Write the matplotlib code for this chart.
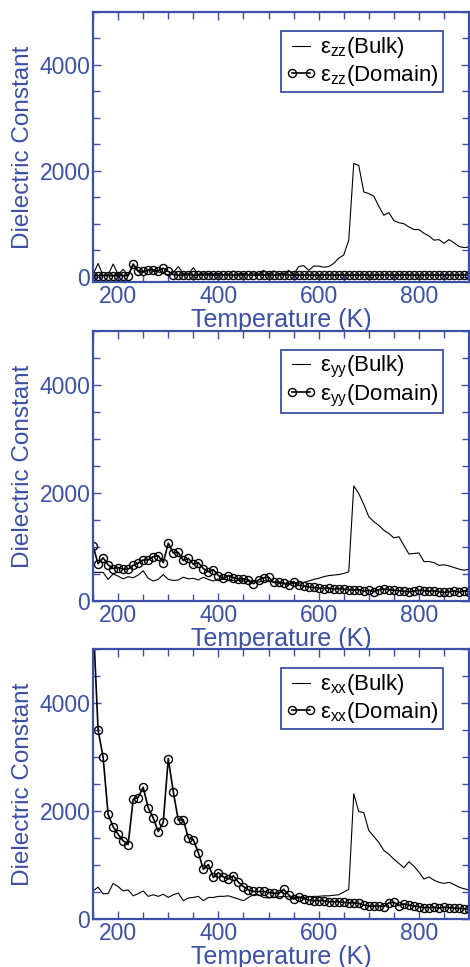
import matplotlib
matplotlib.use('Agg')
import matplotlib.pyplot as plt
from matplotlib.ticker import MultipleLocator
import numpy as np

# temperature grid (K)
temps = np.arange(150, 910, 10)

zz_bulk = [40, 250, 20, 30, 240, 40, 140, 20, 220, 90,
           80, 120, 100, 90, 60, 40, 80, 190, 60, 50,
           170, 40, 70, 60, 50, 60, 40, 50, 110, 50,
           60, 40, 70, 50, 120, 50, 110, 60, 50, 120,
           40, 190, 210, 120, 200, 200, 180, 190, 250, 350,
           410, 690, 2140, 2100, 1600, 1570, 1520, 1330, 1160, 1210,
           1060, 1020, 1000, 940, 890, 890, 820, 770, 690, 700,
           630, 700, 640, 570, 550, 560]
zz_domain = [20, 20, 20, 20, 20, 20, 20, 20, 240, 110,
             100, 130, 130, 110, 160, 100, 40, 30, 30, 35,
             30, 30, 35, 30, 30, 30, 35, 30, 30, 30,
             35, 30, 30, 30, 35, 30, 30, 30, 35, 30,
             30, 30, 35, 30, 30, 30, 35, 30, 30, 30,
             35, 30, 30, 30, 35, 30, 30, 30, 35, 30,
             30, 30, 35, 30, 30, 30, 35, 30, 30, 30,
             35, 30, 30, 30, 35, 30]

yy_bulk = [530, 530, 530, 400, 500, 460, 410, 450, 430, 480,
           560, 420, 370, 400, 490, 400, 380, 390, 440, 410,
           420, 390, 440, 400, 370, 410, 400, 390, 380, 380,
           370, 360, 360, 350, 370, 380, 340, 330, 330, 320,
           330, 330, 340, 370, 400, 420, 450, 470, 480, 490,
           510, 540, 2130, 1990, 1790, 1560, 1470, 1400, 1310, 1250,
           1170, 1190, 1030, 870, 880, 890, 730, 730, 710, 660,
           670, 650, 620, 590, 570, 590]
yy_domain = [1020, 690, 800, 670, 600, 620, 590, 590, 660, 700,
             760, 760, 820, 840, 710, 1070, 890, 900, 750, 790,
             680, 710, 600, 540, 580, 470, 420, 470, 430, 410,
             410, 390, 320, 390, 430, 440, 350, 350, 330, 290,
             360, 290, 280, 260, 250, 240, 230, 240, 220, 230,
             220, 210, 200, 210, 180, 200, 170, 210, 220, 210,
             200, 190, 180, 170, 180, 200, 190, 180, 190, 170,
             160, 170, 190, 160, 190, 170]

xx_bulk = [520, 590, 470, 470, 660, 600, 520, 540, 430, 470,
           520, 420, 450, 420, 460, 400, 450, 480, 340, 390,
           400, 420, 340, 400, 400, 420, 420, 430, 400, 370,
           340, 400, 450, 450, 400, 390, 400, 410, 420, 410,
           400, 410, 400, 410, 420, 420, 430, 430, 440, 450,
           500, 550, 2320, 1990, 1970, 1640, 1530, 1420, 1270, 1200,
           1110, 1030, 950, 1060, 980, 870, 740, 780, 720, 680,
           660, 680, 640, 590, 560, 540]
xx_domain = [5600, 3500, 3000, 1940, 1710, 1570, 1450, 1380, 2220, 2250,
             2440, 2060, 1870, 1620, 1790, 2970, 2360, 1830, 1840, 1500,
             1470, 1230, 920, 1010, 770, 860, 780, 740, 800, 680,
             600, 540, 510, 510, 510, 490, 480, 470, 550, 450,
             370, 400, 380, 350, 340, 340, 340, 320, 320, 320,
             310, 300, 300, 290, 260, 240, 240, 240, 230, 300,
             310, 250, 280, 260, 240, 230, 210, 210, 220, 200,
             220, 210, 200, 200, 190, 180]

panels = [('zz', zz_bulk, zz_domain), ('yy', yy_bulk, yy_domain), ('xx', xx_bulk, xx_domain)]

blue = '#3b50a6'
plt.rcParams['font.family'] = ['Liberation Sans', 'DejaVu Sans']
plt.rcParams['mathtext.fontset'] = 'custom'
plt.rcParams['mathtext.rm'] = 'Liberation Sans'
plt.rcParams['mathtext.it'] = 'Liberation Sans:italic'

fig = plt.figure(figsize=(4.70, 9.67), dpi=100)
bottoms = [0.7084, 0.3785, 0.0496]

for (comp, bulk, dom), b in zip(panels, bottoms):
    ax = fig.add_axes([0.198, b, 0.800, 0.2792])
    ax.plot(temps, bulk, color='black', lw=0.8,
            label=r'$\mathregular{ε_{%s}}$(Bulk)' % comp)
    ax.plot(temps, dom, color='black', lw=1.2, marker='o', ms=5.8,
            mfc='none', mec='black', mew=1.0,
            label=r'$\mathregular{ε_{%s}}$(Domain)' % comp)
    ax.set_xlim(150, 900)
    ax.set_ylim(-100 if comp == 'zz' else 0, 5000)
    ax.set_xticks([200, 400, 600, 800])
    ax.set_yticks([0, 2000, 4000])
    ax.xaxis.set_minor_locator(MultipleLocator(50))
    ax.yaxis.set_minor_locator(MultipleLocator(500))
    ax.tick_params(which='both', direction='in', top=True, right=True,
                   color=blue, labelcolor=blue, labelsize=16.5, pad=2)
    ax.tick_params(which='major', length=6, width=1)
    ax.tick_params(which='minor', length=5, width=1)
    for s in ax.spines.values():
        s.set_color(blue)
        s.set_linewidth(1.6)
    ax.set_xlabel('Temperature (K)', color=blue, fontsize=18, labelpad=0)
    ax.set_ylabel('Dielectric Constant', color=blue, fontsize=17.5, labelpad=4)
    leg = ax.legend(loc='upper right', bbox_to_anchor=(0.93, 0.93), borderaxespad=0,
                    fontsize=16, numpoints=2, handlelength=1.4, handletextpad=0.15,
                    labelspacing=0.1, borderpad=0.2, fancybox=False, framealpha=1)
    leg.get_frame().set_edgecolor(blue)
    leg.get_frame().set_linewidth(1.3)

fig.savefig('out.png', dpi=100)
